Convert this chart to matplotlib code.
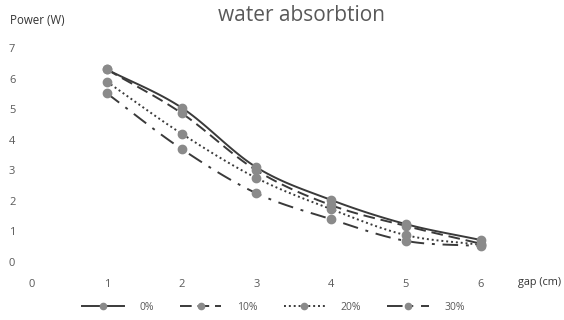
import numpy as np
import matplotlib
matplotlib.use("Agg")
import matplotlib.pyplot as plt
from matplotlib.lines import Line2D

plt.rcParams['font.family'] = ['Open Sans', 'DejaVu Sans']

gap_cm = [1, 2, 3, 4, 5, 6]
labels = ["0%", "10%", "20%", "30%"]
power_0 = [6.3, 5.05, 3.1, 2.03, 1.24, 0.72]
power_10 = [6.3, 4.87, 3.0, 1.86, 1.18, 0.6]
power_20 = [5.9, 4.2, 2.75, 1.73, 0.88, 0.56]
power_30 = [5.52, 3.7, 2.25, 1.4, 0.69, 0.52]

series = [power_0, power_10, power_20, power_30]
styles = ['-', (0, (6, 3)), (0, (1, 1.5)), (0, (8, 4, 1.5, 4))]
line_color = '#3a3a3a'
marker_color = '#8a8a8a'
text_color = '#595959'


def smooth(x, y, n=20):
    """Catmull-Rom curve through the points, as drawn by smoothed-line charts."""
    x = np.asarray(x, float)
    y = np.asarray(y, float)
    px = np.concatenate([[2 * x[0] - x[1]], x, [2 * x[-1] - x[-2]]])
    py = np.concatenate([[2 * y[0] - y[1]], y, [2 * y[-1] - y[-2]]])
    xs, ys = [], []
    t = np.linspace(0, 1, n, endpoint=False)
    for i in range(1, len(px) - 2):
        for p, out in ((px, xs), (py, ys)):
            p0, p1, p2, p3 = p[i - 1], p[i], p[i + 1], p[i + 2]
            out.extend(0.5 * (2 * p1 + (-p0 + p2) * t
                              + (2 * p0 - 5 * p1 + 4 * p2 - p3) * t ** 2
                              + (-p0 + 3 * p1 - 3 * p2 + p3) * t ** 3))
    xs.append(x[-1])
    ys.append(y[-1])
    return np.array(xs), np.array(ys)


fig = plt.figure(figsize=(5.64, 3.2), dpi=100)
ax = fig.add_axes([32 / 564, 1 - 262 / 320, 471 / 564, 214 / 320])

for vals, ls in zip(series, styles):
    sx, sy = smooth(gap_cm, vals)
    ax.plot(sx, sy, color=line_color, lw=1.4, linestyle=ls, zorder=2)
    ax.plot(gap_cm, vals, 'o', color=marker_color, ms=6, mec=marker_color, zorder=3)

ax.set_xlim(0, 6.3)
ax.set_ylim(0, 7)
ax.set_xticks(range(0, 7))
ax.set_yticks(range(0, 8))
for s in ax.spines.values():
    s.set_visible(False)
ax.tick_params(length=0, labelsize=8, colors=text_color)
ax.tick_params(axis='x', pad=12)
ax.tick_params(axis='y', pad=12)

fig.text(0.535, 0.952, "water absorbtion", ha='center', va='center',
         fontsize=15, color=text_color)
fig.text(10 / 564, 1 - 20 / 320, "Power (W)", ha='left', va='center',
         fontsize=8.3, color='#333333')
fig.text(518 / 564, 1 - 282 / 320, "gap (cm)", ha='left', va='center',
         fontsize=7.8, color='#333333')

handles = [Line2D([0], [0], color=line_color, lw=1.4, linestyle=ls,
                  marker='o', ms=4.5, mfc=marker_color, mec=marker_color)
           for ls in styles]
fig.legend(handles, labels, loc='center', bbox_to_anchor=(0.485, 1 - 307 / 320),
           ncol=4, frameon=False, handlelength=4.0, columnspacing=2.5,
           handletextpad=1.5, fontsize=7.5, labelcolor=text_color)

fig.savefig("out.png", dpi=100, facecolor='white')
